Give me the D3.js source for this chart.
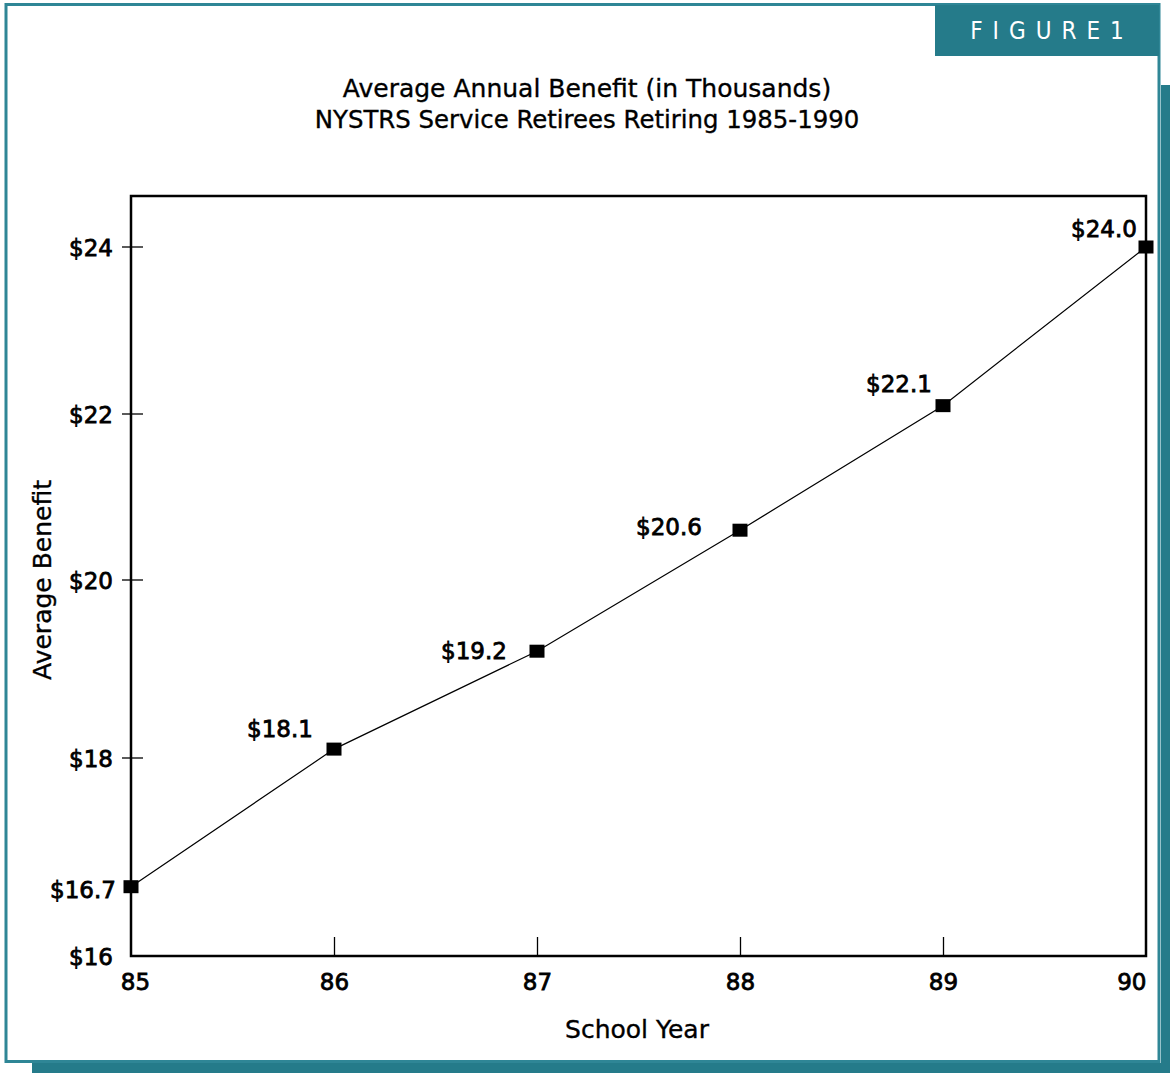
<!DOCTYPE html>
<html>
<head>
<meta charset="utf-8">
<script src="https://cdn.jsdelivr.net/npm/d3@7"></script>
<style>
  body { margin: 0; background: #fff; }
  svg { display: block; }
  text { font-family: "DejaVu Sans", sans-serif; fill: #000; }
  .num { font-size: 23px; stroke: #000; stroke-width: 0.8px; }
</style>
</head>
<body>
<svg id="chart" width="1170" height="1073"></svg>
<script>
// School years (19xx) and average annual benefit in thousands of dollars
const years = [85, 86, 87, 88, 89, 90];
const benefits = [16.7, 18.1, 19.2, 20.6, 22.1, 24.0];
const yTickValues = [16, 18, 20, 22, 24];
const xTickValues = [85, 86, 87, 88, 89, 90];

// placement of each value label relative to its marker
const labelOffsets = [[-48, 11], [-54, -12], [-63, 8], [-71, 5], [-44, -14], [-42, -10]];

const teal = "#257b8a";
const svg = d3.select("#chart");

// page frame with drop shadow
svg.append("rect").attr("x", 1161).attr("y", 85).attr("width", 9).attr("height", 988).attr("fill", teal);
svg.append("rect").attr("x", 32).attr("y", 1063).attr("width", 1138).attr("height", 10).attr("fill", teal);
svg.append("rect").attr("x", 6).attr("y", 4.5).attr("width", 1153).attr("height", 1057)
  .attr("fill", "#fff").attr("stroke", "#2f8696").attr("stroke-width", 3);

// figure tab
svg.append("rect").attr("x", 935).attr("y", 5).attr("width", 224).attr("height", 51).attr("fill", teal);
svg.append("text").attr("x", 1052).attr("y", 39).attr("text-anchor", "middle")
  .style("font-family", "'Liberation Sans Narrow', 'DejaVu Sans Condensed', sans-serif")
  .style("font-size", "24px").style("letter-spacing", "10px").style("fill", "#fff")
  .text("FIGURE1");

// titles
const title = svg.append("g").attr("text-anchor", "middle")
  .style("stroke", "#000").style("stroke-width", 0.35);
title.append("text").attr("x", 587).attr("y", 97).style("font-size", "25px")
  .text("Average Annual Benefit (in Thousands)");
title.append("text").attr("x", 587).attr("y", 128).style("font-size", "24.4px")
  .text("NYSTRS Service Retirees Retiring 1985-1990");

// scales
const plot = { left: 131, right: 1146, top: 196, bottom: 956 };
const x = d3.scaleLinear().domain([85, 90]).range([plot.left, plot.right]);
const y = d3.scaleLinear().domain(yTickValues).range([956, 758, 580, 414, 247]);

// plot box
svg.append("rect").attr("x", plot.left).attr("y", plot.top)
  .attr("width", plot.right - plot.left).attr("height", plot.bottom - plot.top)
  .attr("fill", "none").attr("stroke", "#000").attr("stroke-width", 2.5);

// y axis labels and crossing tick marks
const yAxis = svg.append("g").attr("transform", `translate(${plot.left},0)`)
  .call(d3.axisLeft(y).tickValues(yTickValues).tickSize(0).tickPadding(18).tickFormat(d => "$" + d));
yAxis.select(".domain").remove();
yAxis.attr("font-family", null).attr("font-size", null);
yAxis.selectAll("text").attr("class", "num").attr("dy", "0.36em");
svg.append("g").selectAll("line").data(yTickValues.filter(d => d > 16)).join("line")
  .attr("x1", plot.left - 9).attr("x2", plot.left + 12)
  .attr("y1", d => y(d)).attr("y2", d => y(d))
  .attr("stroke", "#000").attr("stroke-width", 1.3);

// x axis: short ticks rising from the baseline
const xAxis = svg.append("g").attr("transform", `translate(0,${plot.bottom})`)
  .call(d3.axisBottom(x).tickValues(xTickValues).tickSize(-19).tickFormat(d => d));
xAxis.select(".domain").remove();
xAxis.attr("font-family", null).attr("font-size", null);
xAxis.selectAll(".tick line").attr("stroke-width", 1.3)
  .filter(d => d === 85 || d === 90).remove();
xAxis.selectAll("text").attr("class", "num").attr("y", 34).attr("dy", 0)
  .attr("dx", d => d === 85 ? 4 : 0)
  .attr("text-anchor", d => d === 90 ? "end" : "middle");

// axis titles
svg.append("text").attr("x", 637).attr("y", 1038).attr("text-anchor", "middle")
  .style("font-size", "25px").style("stroke", "#000").style("stroke-width", 0.35).text("School Year");
svg.append("text").attr("transform", "translate(51,580) rotate(-90)").attr("text-anchor", "middle")
  .style("font-size", "25px").style("stroke", "#000").style("stroke-width", 0.35).text("Average Benefit");

// series line, markers and value labels
const data = years.map((yr, i) => ({ yr, v: benefits[i], off: labelOffsets[i] }));
svg.append("path").datum(data)
  .attr("fill", "none").attr("stroke", "#000").attr("stroke-width", 1.2)
  .attr("d", d3.line().x(d => x(d.yr)).y(d => y(d.v)));
svg.append("g").selectAll("rect").data(data).join("rect")
  .attr("x", d => x(d.yr) - 7.5).attr("y", d => y(d.v) - 6.5)
  .attr("width", 15).attr("height", 13).attr("fill", "#000");
svg.append("g").selectAll("text").data(data).join("text")
  .attr("class", "num")
  .attr("x", d => x(d.yr) + d.off[0]).attr("y", d => y(d.v) + d.off[1])
  .attr("text-anchor", "middle")
  .text(d => "$" + d.v.toFixed(1));
</script>
</body>
</html>
